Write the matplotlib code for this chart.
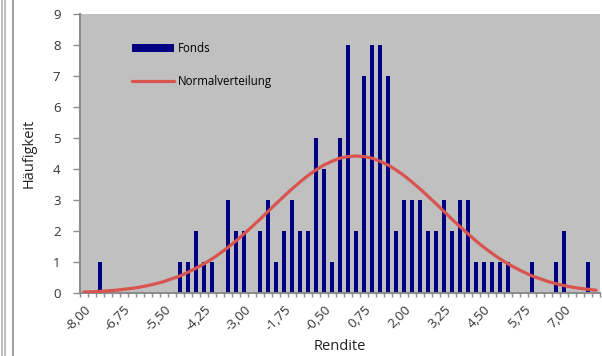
import matplotlib
matplotlib.use("Agg")
import matplotlib.pyplot as plt
from matplotlib.lines import Line2D
from matplotlib.transforms import ScaledTranslation

plt.rcParams['font.family'] = ['Open Sans', 'DejaVu Sans']

# Klassen (Rendite) -8,00 ... 8,00 in 0,25er Schritten
klassen = [-8 + 0.25 * i for i in range(65)]

# Haeufigkeit Fonds je Klasse
fonds = [0, 0, 1, 0, 0, 0, 0, 0, 0, 0,
         0, 0, 1, 1, 2, 1, 1, 0, 3, 2,
         2, 0, 2, 3, 1, 2, 3, 2, 2, 5,
         4, 1, 5, 8, 2, 7, 8, 8, 7, 2,
         3, 3, 3, 2, 2, 3, 2, 3, 3, 1,
         1, 1, 1, 1, 0, 0, 1, 0, 0, 1,
         2, 0, 0, 1, 0]

# Normalverteilung
normal = [0.03, 0.04, 0.05, 0.07, 0.09, 0.12, 0.15, 0.19, 0.24, 0.30,
          0.37, 0.46, 0.55, 0.67, 0.80, 0.94, 1.10, 1.28, 1.47, 1.68,
          1.91, 2.14, 2.38, 2.63, 2.88, 3.12, 3.36, 3.58, 3.79, 3.97,
          4.13, 4.25, 4.35, 4.40, 4.42, 4.40, 4.35, 4.25, 4.13, 3.97,
          3.79, 3.58, 3.36, 3.12, 2.88, 2.63, 2.38, 2.14, 1.91, 1.68,
          1.47, 1.28, 1.10, 0.94, 0.80, 0.67, 0.55, 0.46, 0.37, 0.30,
          0.24, 0.19, 0.15, 0.12, 0.09]

pos = list(range(len(klassen)))

fig = plt.figure(figsize=(6.02, 3.56), dpi=100)
ax = fig.add_axes([80 / 602, 1 - 293 / 356, 520 / 602, 279 / 356])
ax.set_facecolor('#c0c0c0')

b = ax.bar(pos, fonds, width=0.38, color='#000080', label='Fonds', zorder=2)
l, = ax.plot(pos, normal, color='#d9534f', lw=2.3, label='Normalverteilung', zorder=3,
             solid_capstyle='round')

ax.set_xlim(-0.5, len(pos) - 0.5)
ax.set_ylim(0, 9)
ax.set_yticks(range(10))

labpos = pos[::5]
ax.set_xticks(labpos)
ax.set_xticklabels([('%.2f' % klassen[i]).replace('.', ',') for i in labpos],
                   rotation=45, ha='right', va='top', rotation_mode='anchor', fontsize=9.5)
shift = ScaledTranslation(-5 / 100, 0, fig.dpi_scale_trans)
for t in ax.get_xticklabels():
    t.set_transform(t.get_transform() + shift)
ax.set_xticks([p - 0.5 for p in pos] + [len(pos) - 0.5], minor=True)
ax.tick_params(axis='x', which='major', length=0, pad=7, colors='#333333')
ax.tick_params(axis='x', which='minor', length=3, width=1, color='#8c8c8c')
ax.tick_params(axis='y', length=5, width=1, color='#8c8c8c', labelsize=9.5,
               labelcolor='#333333', pad=9)

for s in ['top', 'right']:
    ax.spines[s].set_visible(False)
for s in ['left', 'bottom']:
    ax.spines[s].set_color('#8c8c8c')
    ax.spines[s].set_linewidth(1.5)

ax.set_xlabel('Rendite', fontsize=10.5, color='#222222', labelpad=4)
ax.set_ylabel('Häufigkeit', fontsize=10.5, color='#222222', labelpad=12)

ax.legend([b, l], ['Fonds', 'Normalverteilung'], loc='upper left',
          bbox_to_anchor=(0.1, 0.9), frameon=False,
          fontsize=8.3, handlelength=3.6, handletextpad=0.35, labelspacing=1.75,
          borderpad=0, borderaxespad=0)

# Rahmenlinien links (Ausschnitt)
for xp, c in [(2, '#b0b0b0'), (5, '#b0b0b0'), (13, '#8c8c8c')]:
    fig.add_artist(Line2D([xp / 602, xp / 602], [0, 1], color=c, lw=1.2,
                          transform=fig.transFigure))

fig.savefig('out.png', dpi=100)
